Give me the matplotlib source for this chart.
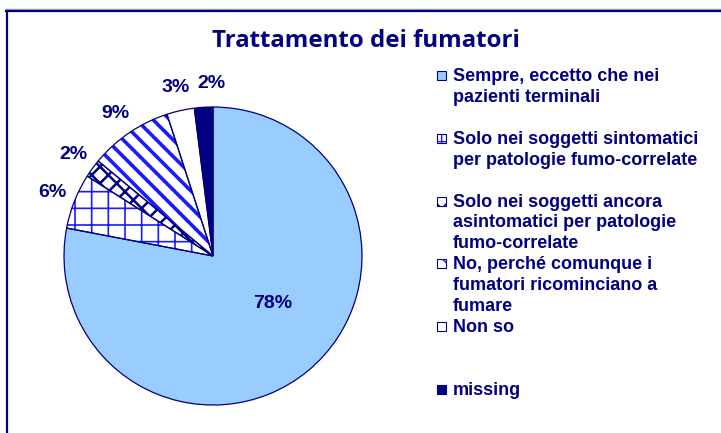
import matplotlib
matplotlib.use("Agg")
import numpy as np
import matplotlib.pyplot as plt
from matplotlib.patches import Rectangle
from matplotlib.lines import Line2D

# data
categories = [
    "Sempre, eccetto che nei\npazienti terminali",
    "Solo nei soggetti sintomatici\nper patologie fumo-correlate",
    "Solo nei soggetti ancora\nasintomatici per patologie\nfumo-correlate",
    "No, perché comunque i\nfumatori ricominciano a\nfumare",
    "Non so",
    "missing",
]
values = [78, 6, 2, 9, 3, 2]
pct_labels = ["78%", "6%", "2%", "9%", "3%", "2%"]

navy = "#000080"
blue = "#1a1aff"
fills = ["#99ccff", "white", "white", "white", "white", navy]
hatches = [None, "+", "xx", "\\\\", None, None]
hatch_cols = ["#99ccff", blue, navy, blue, "white", navy]
hatch_lws = [1.0, 1.2, 1.8, 2.6, 1.0, 1.0]

W, H = 721, 433
fig = plt.figure(figsize=(W / 100, H / 100), dpi=100)

# outer frame (only top and left visible)
fig.add_artist(Line2D([6 / W, 1.0], [1 - 9 / H, 1 - 9 / H], color="#a0a0b0", lw=1.0))
fig.add_artist(Line2D([6 / W, 1.0], [1 - 10.5 / H, 1 - 10.5 / H], color=navy, lw=1.6))
fig.add_artist(Line2D([6.5 / W, 6.5 / W], [0, 1 - 10.5 / H], color=navy, lw=1.6))

cx, cy, r = 213, 256, 149
ax = fig.add_axes([(cx - r) / W, (H - cy - r) / H, 2 * r / W, 2 * r / H])

wedges, _ = ax.pie(values, colors=fills, startangle=90, counterclock=False,
                   wedgeprops=dict(linewidth=0))
for w, h, hc, hl in zip(wedges, hatches, hatch_cols, hatch_lws):
    if h:
        w.set_hatch(h)
        w.set_edgecolor(hc)
        if hasattr(w, "set_hatch_linewidth"):
            w.set_hatch_linewidth(hl)

ax.pie(values, colors=["none"] * len(values), startangle=90, counterclock=False,
       wedgeprops=dict(linewidth=0.9, edgecolor=navy, facecolor="none"))
ax.set_xlim(-1, 1)
ax.set_ylim(-1, 1)
ax.set_aspect("equal")
ax.axis("off")

# percentage labels
for i, (w, lab) in enumerate(zip(wedges, pct_labels)):
    mid = np.deg2rad((w.theta1 + w.theta2) / 2)
    if i == 0:
        x, y = 0.40, -0.32
    else:
        x, y = 1.16 * np.cos(mid), 1.16 * np.sin(mid)
    if i == 5:
        x += 0.06
    ax.text(x, y, lab, ha="center", va="center", fontsize=14, fontweight="bold",
            color=navy, family="Liberation Sans")

# title
fig.text(366 / W, 1 - 41 / H, "Trattamento dei fumatori", ha="center", va="center",
         fontsize=17.3, fontweight="bold", color=navy, family="Open Sans")

# legend
for i, (lab, fc, h, hc, hl) in enumerate(zip(categories, fills, hatches, hatch_cols, hatch_lws)):
    yc = 75 + i * 62.8
    sq = Rectangle((437 / W, 1 - (yc + 5) / H), 9 / W, 9 / H, transform=fig.transFigure,
                   facecolor=fc, edgecolor=navy, lw=0.8)
    fig.add_artist(sq)
    if h:
        sq2 = Rectangle((437 / W, 1 - (yc + 5) / H), 9 / W, 9 / H, transform=fig.transFigure,
                        facecolor="none", edgecolor=hc, lw=0, hatch=h)
        fig.add_artist(sq2)
    fig.text(453 / W, 1 - (yc - 7) / H, lab, ha="left", va="top", fontsize=13,
             fontweight="bold", color=navy, family="Liberation Sans", linespacing=1.3)

fig.savefig("out.png", dpi=100)
